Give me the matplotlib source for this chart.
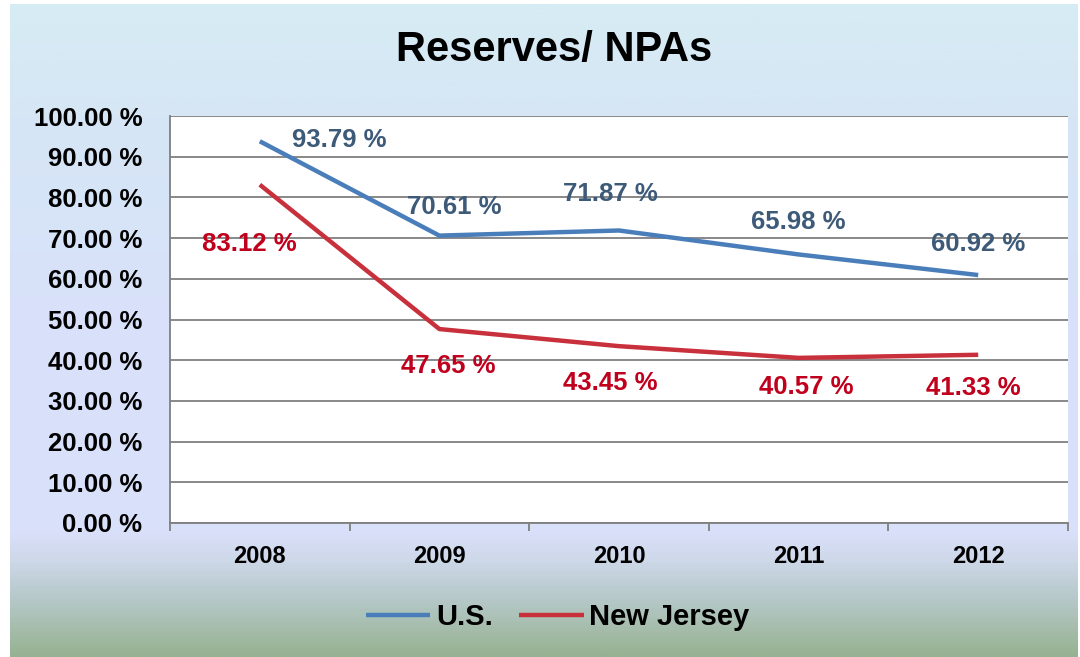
import numpy as np
import matplotlib.pyplot as plt
from matplotlib.colors import LinearSegmentedColormap

# data
years = ["2008", "2009", "2010", "2011", "2012"]
us_vals = [93.79, 70.61, 71.87, 65.98, 60.92]
nj_vals = [83.12, 47.65, 43.45, 40.57, 41.33]

# label offsets in pixels (dx, dy)
us_offsets = [(79, 1), (15, 29), (-9, 36), (0, 32), (0, 31)]
nj_offsets = [(-10, -59), (9, -37), (-9, -37), (8, -29), (-5, -33)]

plt.rcParams['font.family'] = ['Liberation Sans', 'DejaVu Sans']
plt.rcParams['font.weight'] = 'bold'

fig = plt.figure(figsize=(10.8, 6.57), dpi=100)
fig.patch.set_facecolor('white')

# background gradient
bg = fig.add_axes([10 / 1080, 0, 1068 / 1080, 653 / 657], zorder=-10)
stops = [(0.0, '#d6ecf3'), (0.17, '#d6e6f6'), (0.45, '#d8e2f9'),
         (0.81, '#dae0fa'), (0.855, '#cdd8e8'), (0.915, '#b5c8c8'), (1.0, '#97b292')]
cmap = LinearSegmentedColormap.from_list('bg', stops)
grad = np.linspace(0, 1, 400).reshape(-1, 1)
bg.imshow(grad, aspect='auto', cmap=cmap, extent=(0, 1, 0, 1), origin='upper')
bg.set_axis_off()

ax = fig.add_axes([170 / 1080, 1 - 523 / 657, 898 / 1080, 407 / 657])
ax.set_facecolor('white')
x = np.arange(len(years))

ax.plot(x, us_vals, color='#4a7ebb', lw=3.2, solid_capstyle='butt', label='U.S.', zorder=3)
ax.plot(x, nj_vals, color='#c8303c', lw=3.2, solid_capstyle='butt', label='New Jersey', zorder=3)

for i in range(len(years)):
    ax.annotate(f"{us_vals[i]:.2f} %", (x[i], us_vals[i]), xytext=us_offsets[i],
                textcoords='offset pixels', ha='center', va='center',
                fontsize=18.5, fontweight='bold', color='#3d5a78')
    ax.annotate(f"{nj_vals[i]:.2f} %", (x[i], nj_vals[i]), xytext=nj_offsets[i],
                textcoords='offset pixels', ha='center', va='center',
                fontsize=18.5, fontweight='bold', color='#c0001c')

ax.set_xlim(-0.5, len(years) - 0.5)
ax.set_ylim(0, 100)
ax.set_yticks(np.arange(0, 101, 10))
ax.set_yticklabels([f"{v:.2f} %" for v in np.arange(0, 101, 10)], fontsize=18.5, fontweight='bold')
ax.yaxis.grid(True, color='#7f7f7f', lw=1.3)
ax.set_axisbelow(True)
ax.tick_params(axis='y', length=0, pad=20)

ax.set_xticks(np.arange(-0.5, len(years), 1))
ax.set_xticklabels([])
ax.set_xticks(x, minor=True)
ax.set_xticklabels(years, minor=True, fontsize=17, fontweight='bold')
ax.tick_params(axis='x', which='major', length=6, color='#7f7f7f', width=1.3)
ax.tick_params(axis='x', which='minor', length=0, pad=16)

for s in ['top', 'right']:
    ax.spines[s].set_visible(False)
ax.spines['left'].set_color('#7f7f7f')
ax.spines['left'].set_linewidth(1.3)
ax.spines['bottom'].set_color('#7f7f7f')
ax.spines['bottom'].set_linewidth(1.3)

fig.text(554 / 1080, 1 - 50 / 657, "Reserves/ NPAs", ha='center', va='center',
         fontsize=30, fontweight='bold', color='black')

fig.legend(loc='center', bbox_to_anchor=(558 / 1080, 1 - 617 / 657), ncol=2,
           frameon=False, prop={'size': 21, 'weight': 'bold'},
           handlelength=2.2, handletextpad=0.2, columnspacing=0.9)

fig.savefig('out.png', dpi=100)
